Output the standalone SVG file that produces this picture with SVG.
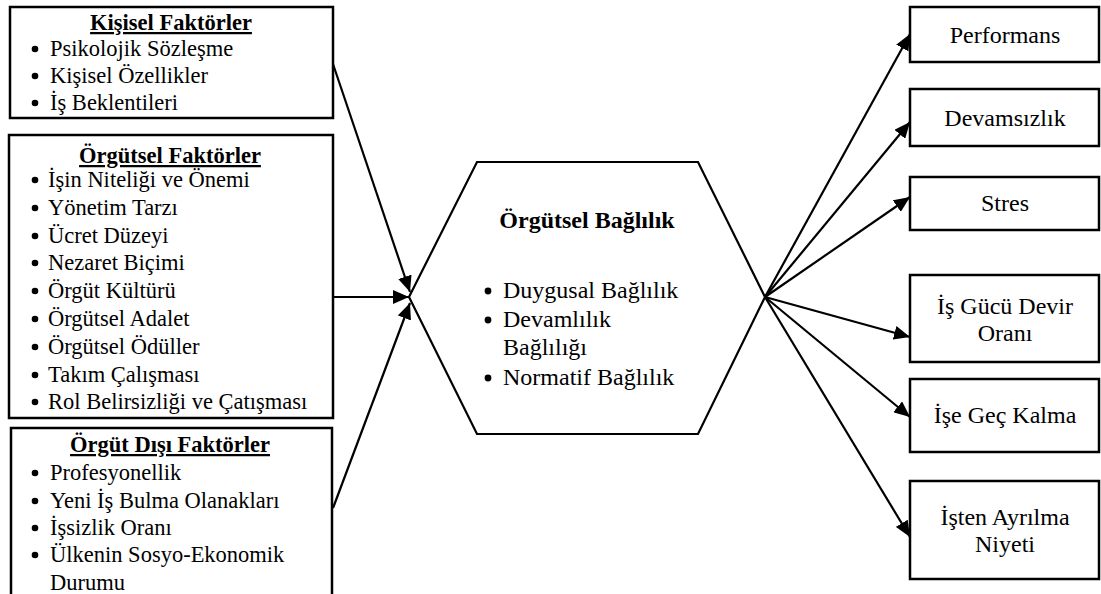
<svg xmlns="http://www.w3.org/2000/svg" width="1101" height="594" viewBox="0 0 1101 594">
  <style>
    .box { fill: #fff; stroke: #000; stroke-width: 2.5; }
    .hex { fill: #fff; stroke: #000; stroke-width: 2.2; }
    text { font-family: "Times New Roman", Tinos, "Liberation Serif", "Noto Serif", "DejaVu Serif", serif; fill: #000; }
    .t { font-size: 22.5px; }
    .h { font-size: 22.5px; font-weight: bold; text-anchor: middle; text-decoration: underline; }
    .c { font-size: 24px; }
    .mid { text-anchor: middle; }
    .dot { fill: #000; }
    .conn line { stroke: #000; stroke-width: 2.2; marker-end: url(#arrow); }
  </style>
  <defs>
    <marker id="arrow" viewBox="0 0 16 14" refX="16" refY="7" markerWidth="16" markerHeight="14" markerUnits="userSpaceOnUse" orient="auto">
      <path d="M0,0 L16,7 L0,14 Z" fill="#000"/>
    </marker>
  </defs>

  <rect width="1101" height="594" fill="#fff"/>

  <!-- connectors -->
  <g id="connectors" class="conn">
    <line x1="333" y1="64" x2="410" y2="292"/>
    <line x1="333" y1="297" x2="409" y2="297"/>
    <line x1="333" y1="508" x2="410" y2="303"/>
    <line x1="765" y1="297" x2="910" y2="34"/>
    <line x1="765" y1="297" x2="910" y2="122"/>
    <line x1="765" y1="297" x2="910" y2="197"/>
    <line x1="765" y1="297" x2="910" y2="337"/>
    <line x1="765" y1="297" x2="910" y2="417"/>
    <line x1="765" y1="297" x2="910" y2="537"/>
  </g>

  <!-- personal factors -->
  <g id="kisisel-faktorler">
    <rect class="box" x="10" y="7" width="323" height="111"/>
    <text class="h" x="171" y="30">Kişisel Faktörler</text>
    <circle class="dot" cx="35" cy="49" r="3.3"/><text class="t" x="50" y="56">Psikolojik Sözleşme</text>
    <circle class="dot" cx="35" cy="76" r="3.3"/><text class="t" x="50" y="83">Kişisel Özellikler</text>
    <circle class="dot" cx="35" cy="103" r="3.3"/><text class="t" x="50" y="110">İş Beklentileri</text>
  </g>

  <!-- organisational factors -->
  <g id="orgutsel-faktorler">
    <rect class="box" x="9" y="135" width="324" height="283"/>
    <text class="h" x="170" y="163">Örgütsel Faktörler</text>
    <circle class="dot" cx="35" cy="180" r="3.3"/><text class="t" x="48" y="187">İşin Niteliği ve Önemi</text>
    <circle class="dot" cx="35" cy="208" r="3.3"/><text class="t" x="48" y="215">Yönetim Tarzı</text>
    <circle class="dot" cx="35" cy="236" r="3.3"/><text class="t" x="48" y="243">Ücret Düzeyi</text>
    <circle class="dot" cx="35" cy="263" r="3.3"/><text class="t" x="48" y="270">Nezaret Biçimi</text>
    <circle class="dot" cx="35" cy="291" r="3.3"/><text class="t" x="48" y="298">Örgüt Kültürü</text>
    <circle class="dot" cx="35" cy="319" r="3.3"/><text class="t" x="48" y="326">Örgütsel Adalet</text>
    <circle class="dot" cx="35" cy="347" r="3.3"/><text class="t" x="48" y="354">Örgütsel Ödüller</text>
    <circle class="dot" cx="35" cy="375" r="3.3"/><text class="t" x="48" y="382">Takım Çalışması</text>
    <circle class="dot" cx="35" cy="402" r="3.3"/><text class="t" x="48" y="409">Rol Belirsizliği ve Çatışması</text>
  </g>

  <!-- external factors -->
  <g id="orgut-disi-faktorler">
    <rect class="box" x="11" y="428" width="321" height="180"/>
    <text class="h" x="170" y="452">Örgüt Dışı Faktörler</text>
    <circle class="dot" cx="35" cy="473" r="3.3"/><text class="t" x="50" y="480">Profesyonellik</text>
    <circle class="dot" cx="35" cy="501" r="3.3"/><text class="t" x="50" y="508">Yeni İş Bulma Olanakları</text>
    <circle class="dot" cx="35" cy="528" r="3.3"/><text class="t" x="50" y="535">İşsizlik Oranı</text>
    <circle class="dot" cx="35" cy="555" r="3.3"/><text class="t" x="50" y="562">Ülkenin Sosyo-Ekonomik</text>
    <text class="t" x="50" y="590">Durumu</text>
  </g>

  <!-- central hexagon -->
  <g id="orgutsel-baglilik">
    <polygon class="hex" points="409,297 477,162 698,162 765,297 698,434 477,434"/>
    <text class="c mid" x="587" y="228" font-weight="bold">Örgütsel Bağlılık</text>
    <circle class="dot" cx="488" cy="291" r="3.4"/><text class="c" x="503" y="298">Duygusal Bağlılık</text>
    <circle class="dot" cx="488" cy="320" r="3.4"/><text class="c" x="503" y="327">Devamlılık</text>
    <text class="c" x="503" y="355">Bağlılığı</text>
    <circle class="dot" cx="488" cy="378" r="3.4"/><text class="c" x="503" y="385">Normatif Bağlılık</text>
  </g>

  <!-- outcomes -->
  <g id="performans">
    <rect class="box" x="910" y="7" width="189" height="55"/>
    <text class="c mid" x="1005" y="43">Performans</text>
  </g>
  <g id="devamsizlik">
    <rect class="box" x="910" y="89" width="189" height="57"/>
    <text class="c mid" x="1005" y="126">Devamsızlık</text>
  </g>
  <g id="stres">
    <rect class="box" x="910" y="177" width="189" height="53"/>
    <text class="c mid" x="1005" y="211">Stres</text>
  </g>
  <g id="is-gucu-devir-orani">
    <rect class="box" x="910" y="275" width="189" height="87"/>
    <text class="c mid" x="1005" y="314">İş Gücü Devir</text>
    <text class="c mid" x="1005" y="341">Oranı</text>
  </g>
  <g id="ise-gec-kalma">
    <rect class="box" x="910" y="379" width="189" height="73"/>
    <text class="c mid" x="1005" y="423">İşe Geç Kalma</text>
  </g>
  <g id="isten-ayrilma-niyeti">
    <rect class="box" x="910" y="481" width="189" height="98"/>
    <text class="c mid" x="1005" y="525">İşten Ayrılma</text>
    <text class="c mid" x="1005" y="552">Niyeti</text>
  </g>
</svg>
